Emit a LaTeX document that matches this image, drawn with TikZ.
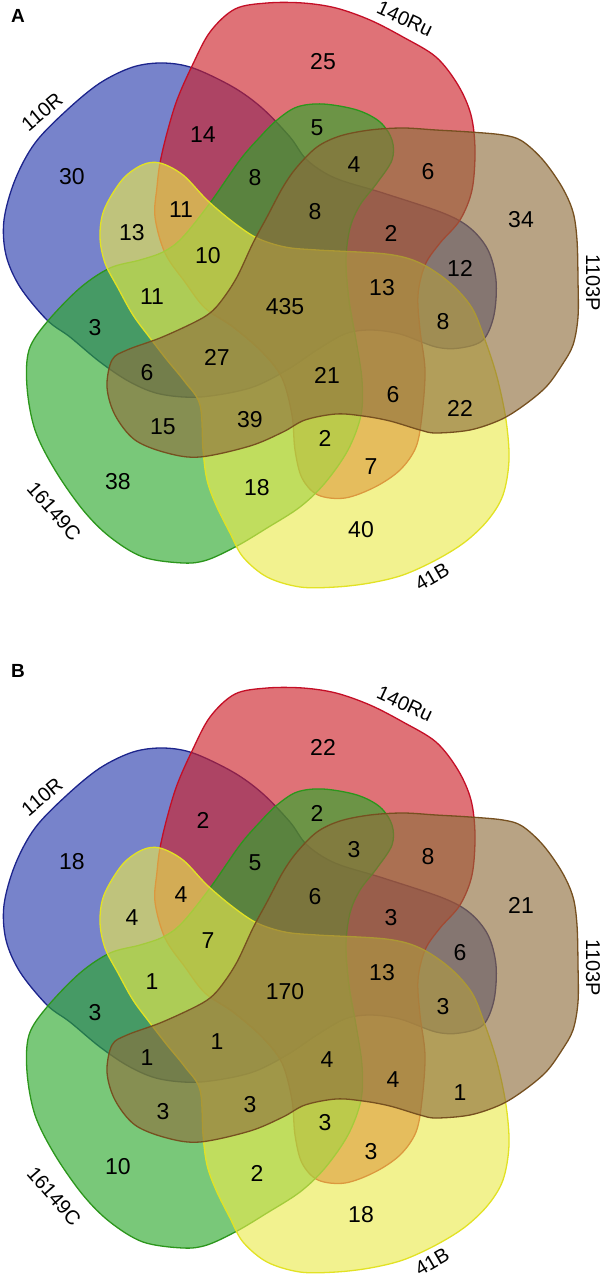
\documentclass[tikz,border=0pt]{standalone}
\usepackage{fontspec}
\setmainfont{Liberation Sans}
\definecolor{bfill}{RGB}{40,58,172}
\definecolor{bline}{RGB}{28,36,140}
\definecolor{rfill}{RGB}{204,32,40}
\definecolor{rline}{RGB}{196,14,38}
\definecolor{gfill}{RGB}{42,168,42}
\definecolor{gline}{RGB}{44,150,28}
\definecolor{yfill}{RGB}{234,234,78}
\definecolor{yline}{RGB}{226,226,36}
\definecolor{nfill}{RGB}{142,110,60}
\definecolor{nline}{RGB}{118,80,32}
\tikzset{
  blob/.style={line width=1.3pt, fill opacity=0.63, draw opacity=1},
  num/.style={font=\fontsize{23}{23}\selectfont, inner sep=0pt},
  setlab/.style={font=\fontsize{20}{20}\selectfont, inner sep=0pt},
  panlab/.style={font=\fontsize{19}{19}\selectfont\bfseries, inner sep=0pt},
}
\newcommand{\VennBlobs}{%
  \draw[blob, draw=bline, fill=bfill] plot[smooth cycle, tension=0.55] coordinates {
    (163,63) (193,68) (233,87) (262,108) (290,137) (307,160) (335,178) (383,193)
    (443,213) (470,228) (488,250) (496,280) (494,315) (483,340) (460,348) (436,347)
    (400,334) (370,330) (345,334) (317,350) (287,370) (250,388) (200,397) (160,394)
    (130,382) (100,362) (70,337) (47,320) (20,287) (6,255) (4,220) (15,180) (35,143)
    (67,110) (100,83) (133,67)};
  \draw[blob, draw=rline, fill=rfill] plot[smooth cycle, tension=0.55] coordinates {
    (160,163) (167,133) (177,100) (192,66) (210,32) (235,9) (267,3) (303,3) (336,8)
    (370,20) (403,37) (436,57) (458,85) (471,115) (475,150) (472,190) (460,220)
    (440,243) (425,265) (418,295) (420,330) (425,370) (422,415) (416,447) (400,470)
    (375,487) (345,498) (318,495) (302,478) (295,450) (292,415) (282,378) (262,352)
    (233,327) (205,308) (185,282) (165,253) (155,217) (157,187)};
  \draw[blob, draw=gline, fill=gfill] plot[smooth cycle, tension=0.55] coordinates {
    (277,120) (297,107) (323,104) (357,110) (380,122) (392,140) (392,160) (377,183)
    (360,205) (350,228) (346,260) (349,300) (356,340) (362,380) (361,415) (348,450)
    (325,483) (300,507) (267,528) (237,546) (207,560) (183,563) (143,557) (110,537)
    (83,510) (55,470) (35,430) (27,387) (29,350) (47,322) (80,288) (110,268)
    (140,260) (163,252) (182,238) (210,203) (240,160) (260,137)};
  \draw[blob, draw=yline, fill=yfill] plot[smooth cycle, tension=0.55] coordinates {
    (160,163) (183,175) (207,200) (233,222) (257,238) (285,247) (317,250) (386,254)
    (420,263) (450,283) (472,308) (485,340) (497,377) (506,420) (509,460) (503,495)
    (488,520) (465,542) (436,560) (403,575) (370,583) (336,587) (300,587) (267,577)
    (243,557) (230,533) (216,505) (207,480) (203,450) (200,405) (185,382) (167,360)
    (150,338) (133,315) (118,288) (105,263) (100,237) (104,210) (122,180) (142,165)};
  \draw[blob, draw=nline, fill=nfill] plot[smooth cycle, tension=0.55] coordinates {
    (297,167) (317,147) (340,136) (370,130) (403,128) (436,130) (470,132) (503,135)
    (522,141) (543,160) (562,187) (573,212) (577,240) (578,280) (578,317) (573,345)
    (562,365) (546,387) (523,406) (500,420) (470,430) (436,433) (420,430) (390,421)
    (363,416) (336,414) (305,420) (283,432) (250,446) (200,457) (167,453) (135,440)
    (115,415) (107,387) (112,360) (127,350) (160,338) (193,323) (210,313) (222,300)
    (237,277) (253,243) (267,217) (283,187)};
  \node[setlab, rotate=40] (l110R) at (42,112) {110R};
  \node[setlab, rotate=-25] (l140Ru) at (405,19) {140Ru};
  \node[setlab, rotate=-90] (l1103P) at (593,283) {1103P};
  \node[setlab, rotate=-49] (l16149C) at (54,511) {16149C};
  \node[setlab, rotate=30] (l41B) at (432,577) {41B};
}
\begin{document}
\begin{tikzpicture}[x=1pt,y=-1pt]
\useasboundingbox (0,0) rectangle (606,1279);
% ---------------- Panel A ----------------
\begin{scope}[name prefix=a-]
\VennBlobs
\node[panlab] (title) at (18,16) {A};
\node[num] (n1) at (72,177) {30};
\node[num] (n2) at (203,135) {14};
\node[num] (n3) at (323,62) {25};
\node[num] (n4) at (317,128) {5};
\node[num] (n5) at (354,165) {4};
\node[num] (n6) at (428,172) {6};
\node[num] (n7) at (255,178) {8};
\node[num] (n8) at (315,212) {8};
\node[num] (n9) at (181,210) {11};
\node[num] (n10) at (132,233) {13};
\node[num] (n11) at (208,256) {10};
\node[num] (n12) at (391,233) {2};
\node[num] (n13) at (521,220) {34};
\node[num] (n14) at (460,268) {12};
\node[num] (n15) at (285,307) {435};
\node[num] (n16) at (382,288) {13};
\node[num] (n17) at (443,322) {8};
\node[num] (n18) at (152,297) {11};
\node[num] (n19) at (95,328) {3};
\node[num] (n20) at (217,357) {27};
\node[num] (n21) at (147,373) {6};
\node[num] (n22) at (327,375) {21};
\node[num] (n23) at (393,395) {6};
\node[num] (n24) at (163,427) {15};
\node[num] (n25) at (250,420) {39};
\node[num] (n26) at (460,408) {22};
\node[num] (n27) at (325,438) {2};
\node[num] (n28) at (371,467) {7};
\node[num] (n29) at (118,482) {38};
\node[num] (n30) at (257,488) {18};
\node[num] (n31) at (361,530) {40};
\end{scope}
% ---------------- Panel B ----------------
\node[panlab] (b-title) at (18,671) {B};
\begin{scope}[shift={(0,685)}, name prefix=b-]
\VennBlobs
\node[num] (n1) at (72,177) {18};
\node[num] (n2) at (203,135) {2};
\node[num] (n3) at (323,62) {22};
\node[num] (n4) at (317,128) {2};
\node[num] (n5) at (354,165) {3};
\node[num] (n6) at (428,172) {8};
\node[num] (n7) at (255,178) {5};
\node[num] (n8) at (315,212) {6};
\node[num] (n9) at (181,210) {4};
\node[num] (n10) at (132,233) {4};
\node[num] (n11) at (208,256) {7};
\node[num] (n12) at (391,233) {3};
\node[num] (n13) at (521,220) {21};
\node[num] (n14) at (460,268) {6};
\node[num] (n15) at (285,307) {170};
\node[num] (n16) at (382,288) {13};
\node[num] (n17) at (443,322) {3};
\node[num] (n18) at (152,297) {1};
\node[num] (n19) at (95,328) {3};
\node[num] (n20) at (217,357) {1};
\node[num] (n21) at (147,373) {1};
\node[num] (n22) at (327,375) {4};
\node[num] (n23) at (393,395) {4};
\node[num] (n24) at (163,427) {3};
\node[num] (n25) at (250,420) {3};
\node[num] (n26) at (460,408) {1};
\node[num] (n27) at (325,438) {3};
\node[num] (n28) at (371,467) {3};
\node[num] (n29) at (118,482) {10};
\node[num] (n30) at (257,488) {2};
\node[num] (n31) at (361,530) {18};
\end{scope}
\end{tikzpicture}
\end{document}
